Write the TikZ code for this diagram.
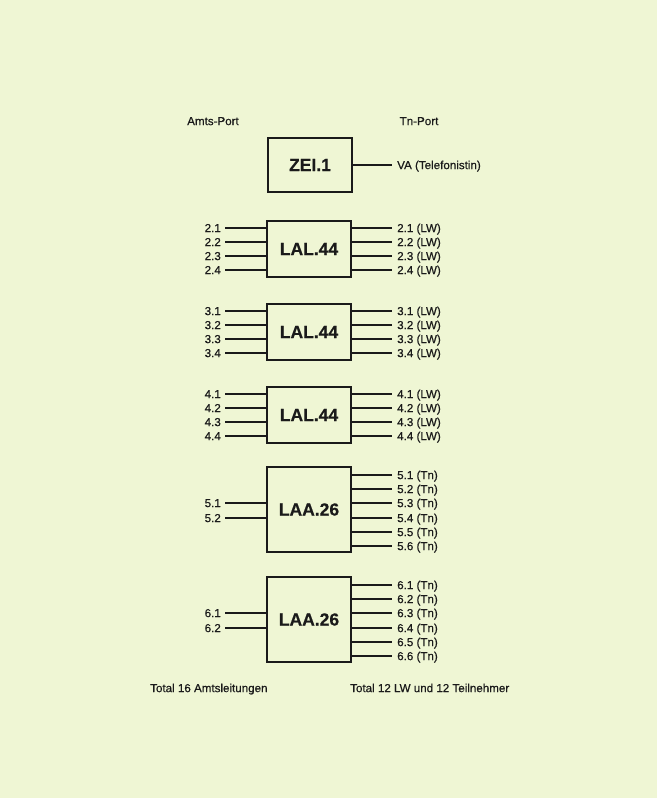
\documentclass[tikz,border=0pt]{standalone}
\usepackage{fontspec}
\setmainfont{Liberation Sans}
\newfontfamily\regfont{Liberation Sans}[FakeBold=0.6]
\newfontfamily\titlefont{Liberation Sans Bold}[FakeBold=0.5]
\definecolor{paper}{HTML}{EFF6D4}
\definecolor{ink}{HTML}{1A1A1A}
\begin{document}
\begin{tikzpicture}[x=1pt,y=-1pt,
  box/.style={draw=ink, line width=1.3pt, minimum width=84pt, inner sep=0pt, text=ink,
              font=\titlefont\fontsize{17.5}{20}\selectfont},
  wire/.style={draw=ink, line width=1.1pt},
  lab/.style={font=\regfont\fontsize{11.6}{13}\selectfont, text=ink, inner ysep=0pt,
              text height=8.2pt, text depth=0pt},
  lableft/.style={lab, anchor=east, inner xsep=4pt},
  labright/.style={lab, anchor=west, inner xsep=5pt},
  foot/.style={lab, anchor=west, inner xsep=0pt}]
\fill[paper] (0,0) rectangle (657,798);
\useasboundingbox (0,0) rectangle (657,798);

\node[lab] (hA) at (213,121) {Amts-Port};
\node[lab] (hT) at (419,121) {Tn-Port};

\node[box, minimum height=54pt] (b1) at (310,165) {ZEI.1};
\node[labright] (va) at (392,165) {VA (Telefonistin)};
\draw[wire] (b1.east) -- (va.west);

\foreach \g/\tp in {2/221,3/304,4/387} {
  \node[box, minimum height=56pt] (b\g) at (309,\tp+28) {LAL.44};
  \foreach \k in {1,...,4} {
    \pgfmathsetmacro\yy{\tp+7+14*(\k-1)}
    \node[lableft] (l\g\k) at (225,\yy) {\g.\k};
    \node[labright] (r\g\k) at (392,\yy) {\g.\k\ (LW)};
    \draw[wire] (l\g\k.east) -- (l\g\k.east -| b\g.west);
    \draw[wire] (b\g.east |- r\g\k.west) -- (r\g\k.west);
  }
}

\foreach \g/\tp in {5/467,6/577} {
  \node[box, minimum height=85pt] (b\g) at (309,\tp+42.5) {LAA.26};
  \foreach \k in {1,...,6} {
    \pgfmathsetmacro\yy{round(\tp+8+14.2*(\k-1))}
    \node[labright] (r\g\k) at (392,\yy) {\g.\k\ (Tn)};
    \draw[wire] (b\g.east |- r\g\k.west) -- (r\g\k.west);
  }
  \foreach \k in {1,2} {
    \pgfmathsetmacro\yy{round(\tp+8+14.2*(\k+1))}
    \node[lableft] (l\g\k) at (225,\yy) {\g.\k};
    \draw[wire] (l\g\k.east) -- (l\g\k.east -| b\g.west);
  }
}

\node[foot] (t1) at (150,688) {Total 16 Amtsleitungen};
\node[foot] (t2) at (350,688) {Total 12 LW und 12 Teilnehmer};
\end{tikzpicture}
\end{document}
